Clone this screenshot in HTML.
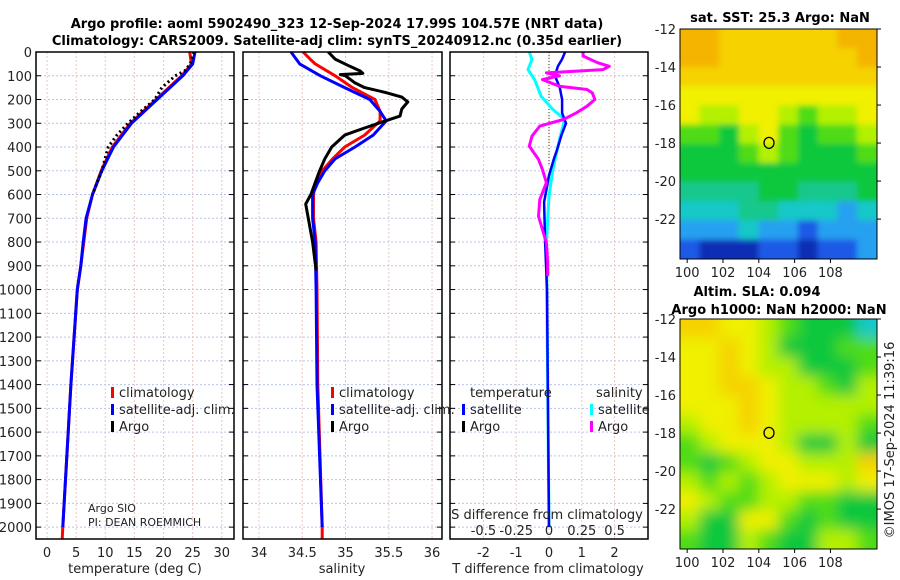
<!DOCTYPE html>
<html><head><meta charset="utf-8">
<style>
html,body{margin:0;padding:0;background:#fff;}
svg{display:block;font-family:"DejaVu Sans","Liberation Sans",sans-serif;}
</style></head>
<body>
<svg id="chart" width="900" height="580" viewBox="0 0 900 580" xmlns="http://www.w3.org/2000/svg">
<g id="layer"></g>
</svg>
<script>
// ---------- data ----------
const tempDepth = [0,50,100,200,300,400,500,600,700,800,900,1000,1400,2000,2050];
const tempClim  = [24.5,24.8,23.1,18.7,14.3,11.2,9.3,7.8,6.8,6.3,5.8,5.2,4.1,2.7,2.6];
const tempSat   = [25.4,25.0,23.3,18.9,14.5,11.4,9.4,7.8,6.7,6.2,5.8,5.2,4.1,2.7];
const argoTDepth = [0,50,80,100,150,200,250,300,350,400,500,600];
const argoTemp   = [25.2,24.6,23.6,22.0,19.7,18.5,16.1,13.9,12.0,10.5,9.4,7.8];

const salDepth = [0,30,50,100,150,200,250,290,350,400,450,500,550,600,700,800,1000,1400,2000,2050];
const salSat   = [34.37,34.43,34.47,34.71,34.99,35.28,35.40,35.47,35.32,35.11,34.88,34.76,34.68,34.62,34.62,34.65,34.66,34.67,34.73];
const salClim  = [34.51,34.59,34.65,34.88,35.08,35.34,35.40,35.40,35.22,34.99,34.85,34.73,34.65,34.63,34.63,34.66,34.67,34.68,34.73,34.73];
const argoSDepth = [0,30,60,80,90,95,100,130,150,170,190,210,240,270,290,320,350,400,450,500,550,600,640,700,800,920];
const argoSal    = [34.80,34.88,35.05,35.17,35.20,34.94,35.00,35.11,35.22,35.46,35.65,35.72,35.65,35.63,35.46,35.22,34.99,34.84,34.76,34.70,34.65,34.60,34.54,34.57,34.62,34.66];

const dTDepth = [0,30,60,100,150,200,257,300,350,413,450,520,632,800,1000,2000];
const dTSat   = [0.49,0.40,0.27,0.18,0.33,0.40,0.40,0.52,0.38,0.24,0.15,0.0,-0.15,-0.12,-0.06,0.0];
const dSDepth = [0,32,74,116,186,242,284,368,495,607,803,2000];
const dSSat   = [-0.15,-0.13,-0.16,-0.11,-0.06,0.03,0.12,0.08,0.03,0.0,-0.02,0.0];
const argoDSDepth = [0,17,45,60,74,88,100,116,144,158,172,200,228,256,284,312,354,396,452,494,550,621,691,747,803,887,943];
const argoDS      = [0.26,0.26,0.37,0.46,0.41,-0.02,0.08,-0.05,0.08,0.29,0.33,0.35,0.29,0.21,0.11,-0.07,-0.13,-0.15,-0.08,-0.05,-0.02,-0.07,-0.08,-0.05,-0.02,-0.01,-0.01];

const tTicks = [0,5,10,15,20,25,30];
const sTicks = [34,34.5,35,35.5,36];
const dTTicks = [-2,-1,0,1,2];
const dSTickLabels = ["-0.5","-0.25","0","0.25","0.5"];
const dSTicks = [-0.5,-0.25,0,0.25,0.5];
const depthTicks = [0,100,200,300,400,500,600,700,800,900,1000,1100,1200,1300,1400,1500,1600,1700,1800,1900,2000];

const latTicks = [-12,-14,-16,-18,-20,-22];
const lonTicks = [100,102,104,106,108];
const sstGrid = [
[10,10,9,9,9,9,9,9,10,10],
[10,10,9,9,9,9,9,9,9,10],
[9,9,9,9,9,9,9,9,9,9],
[8,8,8,8,8,8,8,8,8,8],
[8,7,7,8,8,7,6,7,7,8],
[6,6,5,7,8,6,5,6,6,7],
[5,5,5,6,7,6,5,5,5,6],
[5,5,5,5,5,5,5,5,5,5],
[4,4,4,4,5,5,4,4,4,5],
[3,3,3,4,4,3,3,3,2,3],
[2,2,2,3,2,2,1,2,2,2],
[1,0,0,0,1,1,0,1,1,2]];
const slaGrid = [
[9,9,8,8,7,6,5,5,5,3],
[8,8,9,8,7,5,5,5,6,6],
[8,8,9,8,7,7,5,5,5,6],
[8,8,9,9,8,7,7,6,5,7],
[8,8,8,9,8,7,7,7,7,7],
[7,8,8,9,8,7,7,7,7,6],
[6,7,8,8,8,7,5,5,7,5],
[6,5,6,7,8,8,7,7,7,9],
[7,6,7,6,7,8,8,8,7,8],
[8,7,6,6,7,7,6,6,5,5],
[7,5,5,8,8,6,5,6,5,5],
[6,5,5,7,6,5,5,7,7,6]];
const palette = ["#0a2db4","#1e5ae6","#28a0f0","#14c8c8","#14c88c","#0ac83c","#50dc14","#b4f000","#f0f000","#f5d200","#f5b400"];
const floatLon = 104.57, floatLat = -17.99;

// ---------- helpers ----------
const NS = "http://www.w3.org/2000/svg";
const layer = document.getElementById('layer');
function mk(tag, attrs, parent){
  const e = document.createElementNS(NS, tag);
  for (const k in attrs) e.setAttribute(k, attrs[k]);
  (parent||layer).appendChild(e);
  return e;
}
function txt(x,y,s,opts,parent){
  const e = mk('text',Object.assign({x:x,y:y,'font-size':13,fill:'#222'},opts||{}),parent);
  e.textContent = s;
  return e;
}
const yTop = 52, yBot = 539;
function yD(d){ return yTop + d*(yBot-yTop)/2050; }

function panel(name, x0, x1, vmin, vmax){
  const g = mk('g',{});
  
  
  const sx = v => x0 + (v - vmin)*(x1-x0)/(vmax-vmin);
  return {g, sx, x0, x1};
}
function grid(p, xt){
  for (const d of depthTicks){
    const l = mk('line',{x1:p.x0,x2:p.x1,y1:yD(d),y2:yD(d),stroke:'#b8c4ee','stroke-width':1,'stroke-dasharray':'2,2'},p.g);
    
    
    mk('line',{x1:p.x0,x2:p.x0+5,y1:yD(d),y2:yD(d),stroke:'#000','stroke-width':1},p.g);
    mk('line',{x1:p.x1-5,x2:p.x1,y1:yD(d),y2:yD(d),stroke:'#000','stroke-width':1},p.g);
  }
  for (const v of xt){
    const l = mk('line',{x1:p.sx(v),x2:p.sx(v),y1:yTop,y2:yBot,stroke:'#e8c8c0','stroke-width':1,'stroke-dasharray':'2,2'},p.g);
    
    
  }
}
function frame(p){
  const r = mk('rect',{x:p.x0,y:yTop,width:p.x1-p.x0,height:yBot-yTop,fill:'none',stroke:'#000','stroke-width':1.5},p.g);
  
  
}
function line(p, xs, ds, sxf, color, w, name, dash){
  let pts = [];
  for (let i=0;i<Math.min(xs.length,ds.length);i++) pts.push(sxf(xs[i]).toFixed(1)+','+yD(ds[i]).toFixed(1));
  const a = {points:pts.join(' '),fill:'none',stroke:color,'stroke-width':w,'stroke-linejoin':'round'};
  if (dash) a['stroke-dasharray']=dash;
  const e = mk('polyline',a,p.g);
  
  
  return e;
}
function legend(x, y, color, label, parent){
  const m = mk('rect',{x:x,y:y-10,width:3,height:11,fill:color},parent);
  
  
  const t = txt(x+8,y,label,{},parent);
  
  
}

// ---------- titles ----------
let t1 = txt(337,28,'Argo profile: aoml 5902490_323 12-Sep-2024 17.99S 104.57E (NRT data)',{'font-weight':'bold','text-anchor':'middle','fill':'#000'});


let t2 = txt(337,45,'Climatology: CARS2009. Satellite-adj clim: synTS_20240912.nc (0.35d earlier)',{'font-weight':'bold','text-anchor':'middle','fill':'#000'});



for (const d of depthTicks){
  const e = txt(32,yD(d)+5,String(d),{'text-anchor':'end'});
  
  
}

// ---------- panel 1 temperature ----------
const p1 = panel('temperature-panel',36,234,-1.9,32.1);
grid(p1,tTicks);
line(p1,tempClim,tempDepth,p1.sx,'#f00',3,'temperature-climatology-line');
line(p1,tempSat,tempDepth,p1.sx,'#00f',3,'temperature-satellite-line');
line(p1,argoTemp,argoTDepth,p1.sx,'#000',3,'temperature-argo-line','2,3');
frame(p1);
for (const v of tTicks){ const e = txt(p1.sx(v),557,String(v),{'text-anchor':'middle'},p1.g);
    }
let xa1 = txt(135,573,'temperature (deg C)',{'text-anchor':'middle'},p1.g);
 
legend(111,397,'#f00','climatology',p1.g);
legend(111,414,'#00f','satellite-adj. clim.',p1.g);
legend(111,431,'#000','Argo',p1.g);
let n1 = txt(88,512,'Argo SIO',{'font-size':11},p1.g);
 
let n2 = txt(88,526,'PI: DEAN ROEMMICH',{'font-size':11},p1.g);
 

// ---------- panel 2 salinity ----------
const p2 = panel('salinity-panel',243,442,33.815,36.115);
grid(p2,sTicks);
line(p2,salClim,salDepth,p2.sx,'#f00',3,'salinity-climatology-line');
line(p2,salSat,salDepth,p2.sx,'#00f',3,'salinity-satellite-line');
line(p2,argoSal,argoSDepth,p2.sx,'#000',3,'salinity-argo-line');
frame(p2);
for (const v of sTicks){ const e = txt(p2.sx(v),557,String(v),{'text-anchor':'middle'},p2.g);
    }
let xa2 = txt(342,573,'salinity',{'text-anchor':'middle'},p2.g);
 
legend(331,397,'#f00','climatology',p2.g);
legend(331,414,'#00f','satellite-adj. clim.',p2.g);
legend(331,431,'#000','Argo',p2.g);

// ---------- panel 3 differences ----------
const p3 = panel('difference-panel',450,648,-3.02,3.02);
const sxS = v => p3.sx(v*4);
grid(p3,dTTicks);
let zl = mk('line',{x1:p3.sx(0),x2:p3.sx(0),y1:yTop,y2:yD(480),stroke:'#333','stroke-width':1,'stroke-dasharray':'1,2'},p3.g);
 
line(p3,dSSat,dSDepth,sxS,'#0ff',3,'salinity-satellite-diff-line');
line(p3,dTSat,dTDepth,p3.sx,'#00f',2.5,'temperature-satellite-diff-line');
line(p3,argoDS,argoDSDepth,sxS,'#f0f',3,'salinity-argo-diff-line');
frame(p3);
for (const v of dTTicks){ const e = txt(p3.sx(v),557,String(v),{'text-anchor':'middle'},p3.g);
    }
for (let i=0;i<dSTicks.length;i++){ const e = txt(sxS(dSTicks[i]),535,dSTickLabels[i],{'text-anchor':'middle'},p3.g);
    }
let sd = txt(547,519,'S difference from climatology',{'text-anchor':'middle'},p3.g);
 
let xa3 = txt(548,573,'T difference from climatology',{'text-anchor':'middle'},p3.g);
 
let lt = txt(470,397,'temperature',{},p3.g);
 
let ls = txt(596,397,'salinity',{},p3.g);
 
legend(462,414,'#00f','satellite',p3.g);
legend(462,431,'#000','Argo',p3.g);
legend(590,414,'#0ff','satellite',p3.g);
legend(590,431,'#f0f','Argo',p3.g);

// ---------- maps ----------
const defs = mk('defs',{});
const f = mk('filter',{id:'blur',x:'-10%',y:'-10%',width:'120%',height:'120%'},defs);
mk('feGaussianBlur',{stdDeviation:7},f);
const f2 = mk('filter',{id:'blur2',x:'-10%',y:'-10%',width:'120%',height:'120%'},defs);
mk('feGaussianBlur',{stdDeviation:3},f2);

function map(name, y0, y1, gridData, filt){
  const x0 = 680, x1 = 877, lonMin = 99.6, lonMax = 110.6, latMax = -12, latMin = -24.1;
  const g = mk('g',{});
  
  
  const sx = v => x0 + (v-lonMin)*(x1-x0)/(lonMax-lonMin);
  const sy = v => y0 + (latMax-v)*(y1-y0)/(latMax-latMin);
  const clip = mk('clipPath',{id:name+'-clip'},g);
  mk('rect',{x:x0,y:y0,width:x1-x0,height:y1-y0},clip);
  const cg = mk('g',{'clip-path':'url(#'+name+'-clip)'},g);
  const inner = mk('g',{filter:'url(#'+filt+')'},cg);
  const rows = gridData.length, cols = gridData[0].length;
  const dLon = (lonMax-lonMin)/cols, dLat = (latMax-latMin)/rows;
  const pad = 20;
  for (let r=0;r<rows;r++) for (let c=0;c<cols;c++){
    let xa = sx(lonMin+c*dLon), xb = sx(lonMin+(c+1)*dLon);
    let ya = sy(latMax-r*dLat), yb = sy(latMax-(r+1)*dLat);
    if (c===0) xa -= pad; if (c===cols-1) xb += pad;
    if (r===0) ya -= pad; if (r===rows-1) yb += pad;
    const cell = mk('rect',{x:xa-0.3,y:ya-0.3,width:xb-xa+0.6,height:yb-ya+0.6,fill:palette[gridData[r][c]]},inner);
    
    
  }
  const fr = mk('rect',{x:x0,y:y0,width:x1-x0,height:y1-y0,fill:'none',stroke:'#000','stroke-width':1},g);
   
  for (const v of latTicks){
    mk('line',{x1:x1,x2:x1+4,y1:sy(v),y2:sy(v),stroke:'#000'},g);
    const e = txt(676,sy(v)+5,String(v),{'text-anchor':'end'},g);
     
  }
  for (const v of lonTicks){
    mk('line',{x1:sx(v),x2:sx(v),y1:y1,y2:y1+4,stroke:'#000'},g);
    const e = txt(sx(v),y1+18,String(v),{'text-anchor':'middle'},g);
     
  }
  const m = mk('ellipse',{cx:sx(floatLon),cy:sy(floatLat),rx:5,ry:5.5,fill:'none',stroke:'#000','stroke-width':1.3},g);
   
}

map('sst-map',29,259,sstGrid,'blur2');
map('sla-map',319,549,slaGrid,'blur');

let mt1 = txt(780,22,'sat. SST: 25.3 Argo: NaN',{'font-weight':'bold','text-anchor':'middle','fill':'#000'});
 
let mt2 = txt(757,296,'Altim. SLA: 0.094',{'font-weight':'bold','text-anchor':'middle','fill':'#000'});
 
let mt3 = txt(779,314,'Argo h1000: NaN h2000: NaN',{'font-weight':'bold','text-anchor':'middle','fill':'#000'});
 
let cr = txt(0,0,'©IMOS 17-Sep-2024 11:39:16',{'text-anchor':'middle',transform:'translate(894,440) rotate(-90)'});
 
</script>
</body></html>
